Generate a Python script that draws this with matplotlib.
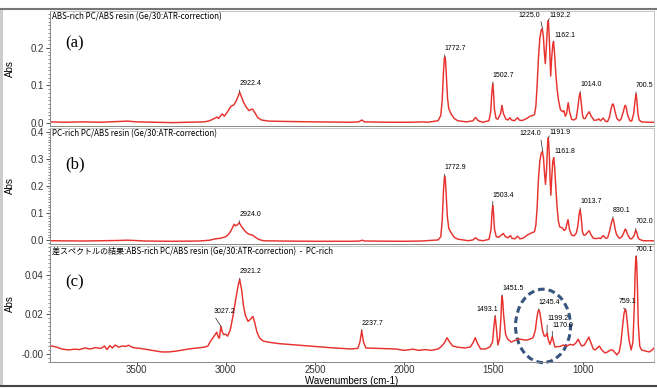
import matplotlib
matplotlib.use("Agg")
import matplotlib.pyplot as plt
from matplotlib.patches import Ellipse, Rectangle
from matplotlib.lines import Line2D
from matplotlib.ticker import AutoMinorLocator

# ---- spectrum (a): ABS-rich PC/ABS resin, (wavenumber, abs) ----
a_points = [(3985, 0.003), (3900, 0.002), (3800, 0.003), (3700, 0.002), (3600, 0.004), (3550, 0.005),
            (3500, 0.003), (3400, 0.002), (3300, 0.001), (3200, 0.002), (3120, 0.003), (3090, 0.006),
            (3060, 0.013), (3050, 0.016), (3040, 0.012), (3028, 0.020), (3020, 0.024), (3008, 0.018),
            (2990, 0.030), (2970, 0.045), (2955, 0.048), (2940, 0.060), (2930, 0.072), (2922, 0.082),
            (2912, 0.070), (2900, 0.055), (2885, 0.042), (2870, 0.033), (2855, 0.037), (2848, 0.036),
            (2835, 0.026), (2820, 0.014), (2800, 0.008), (2760, 0.005), (2650, 0.004), (2500, 0.003),
            (2300, 0.002), (2255, 0.003), (2238, 0.008), (2222, 0.003), (2100, 0.002), (1960, 0.002),
            (1900, 0.003), (1870, 0.002), (1810, 0.006), (1795, 0.020), (1787, 0.060), (1780, 0.135),
            (1775, 0.172), (1772, 0.176), (1768, 0.165), (1763, 0.120), (1757, 0.065), (1750, 0.038),
            (1738, 0.025), (1720, 0.012), (1700, 0.006), (1650, 0.003), (1615, 0.006), (1600, 0.015),
            (1585, 0.006), (1560, 0.002), (1525, 0.006), (1515, 0.030), (1509, 0.080), (1504, 0.104),
            (1500, 0.085), (1494, 0.035), (1485, 0.012), (1475, 0.010), (1460, 0.025), (1452, 0.047),
            (1444, 0.025), (1430, 0.010), (1418, 0.008), (1408, 0.014), (1398, 0.008), (1382, 0.006),
            (1365, 0.014), (1352, 0.007), (1335, 0.007), (1310, 0.013), (1295, 0.018), (1280, 0.020),
            (1270, 0.022), (1262, 0.045), (1255, 0.100), (1248, 0.170), (1240, 0.225), (1232, 0.248),
            (1226, 0.251), (1220, 0.230), (1214, 0.185), (1209, 0.158), (1203, 0.205), (1196, 0.265),
            (1192, 0.273), (1187, 0.230), (1182, 0.160), (1179, 0.125), (1174, 0.170), (1167, 0.210),
            (1163, 0.217), (1158, 0.190), (1150, 0.130), (1143, 0.090), (1135, 0.060), (1124, 0.035),
            (1112, 0.030), (1105, 0.033), (1097, 0.018), (1090, 0.025), (1081, 0.054), (1073, 0.030),
            (1062, 0.010), (1050, 0.008), (1036, 0.012), (1027, 0.040), (1019, 0.072), (1014, 0.079),
            (1009, 0.060), (1001, 0.022), (995, 0.012), (985, 0.012), (975, 0.022), (963, 0.030),
            (952, 0.018), (935, 0.007), (920, 0.008), (910, 0.011), (900, 0.006), (885, 0.013),
            (870, 0.004), (860, 0.004), (850, 0.015), (842, 0.035), (834, 0.049), (830, 0.051),
            (825, 0.045), (818, 0.030), (808, 0.012), (795, 0.006), (785, 0.010), (772, 0.030),
            (764, 0.045), (760, 0.047), (755, 0.040), (748, 0.022), (735, 0.006), (725, 0.005),
            (714, 0.025), (706, 0.060), (701, 0.077), (697, 0.065), (690, 0.025), (683, 0.008),
            (670, 0.003), (640, 0.002), (600, 0.002)]

# ---- spectrum (b): PC-rich PC/ABS resin ----
b_points = [(3985, -0.003), (3800, -0.004), (3600, -0.002), (3550, -0.001), (3450, -0.004), (3300, -0.005),
            (3150, -0.004), (3090, -0.001), (3060, 0.004), (3030, 0.006), (3000, 0.012), (2985, 0.020),
            (2970, 0.035), (2960, 0.048), (2953, 0.058), (2945, 0.052), (2935, 0.056), (2924, 0.063),
            (2912, 0.050), (2895, 0.035), (2880, 0.025), (2865, 0.020), (2850, 0.018), (2835, 0.010),
            (2815, 0.002), (2790, -0.003), (2700, -0.004), (2500, -0.005), (2300, -0.005), (2250, -0.004),
            (2235, -0.001), (2220, -0.004), (2000, -0.005), (1900, -0.004), (1880, -0.003), (1810, 0.000),
            (1795, 0.012), (1787, 0.070), (1780, 0.180), (1775, 0.228), (1773, 0.235), (1769, 0.220),
            (1764, 0.160), (1758, 0.085), (1750, 0.042), (1738, 0.028), (1720, 0.010), (1700, 0.003),
            (1640, -0.003), (1615, 0.000), (1600, 0.008), (1585, 0.000), (1560, -0.003), (1525, 0.002),
            (1513, 0.040), (1508, 0.100), (1504, 0.127), (1500, 0.105), (1494, 0.040), (1484, 0.012),
            (1470, 0.010), (1455, 0.018), (1445, 0.024), (1432, 0.012), (1418, 0.008), (1405, 0.016),
            (1395, 0.006), (1380, 0.004), (1365, 0.014), (1352, 0.004), (1335, 0.006), (1310, 0.018),
            (1290, 0.025), (1270, 0.030), (1262, 0.055), (1255, 0.120), (1248, 0.220), (1240, 0.290),
            (1232, 0.320), (1225, 0.327), (1219, 0.300), (1213, 0.240), (1208, 0.205), (1202, 0.260),
            (1196, 0.360), (1192, 0.377), (1187, 0.320), (1182, 0.220), (1178, 0.165), (1173, 0.230),
            (1167, 0.290), (1162, 0.303), (1157, 0.270), (1150, 0.190), (1143, 0.120), (1136, 0.070),
            (1128, 0.048), (1115, 0.045), (1103, 0.035), (1095, 0.040), (1082, 0.075), (1074, 0.040),
            (1062, 0.018), (1048, 0.015), (1036, 0.025), (1027, 0.050), (1019, 0.098), (1014, 0.111),
            (1009, 0.090), (1001, 0.030), (994, 0.018), (985, 0.018), (975, 0.026), (963, 0.034),
            (952, 0.018), (940, 0.006), (925, 0.005), (910, 0.007), (898, 0.005), (885, 0.016),
            (870, 0.006), (860, 0.008), (848, 0.035), (840, 0.060), (833, 0.075), (830, 0.078),
            (825, 0.068), (818, 0.040), (810, 0.020), (795, 0.006), (782, 0.010), (770, 0.025),
            (763, 0.038), (760, 0.040), (755, 0.034), (748, 0.020), (735, 0.005), (725, 0.004),
            (712, 0.015), (706, 0.028), (702, 0.035), (698, 0.030), (690, 0.010), (682, 0.002),
            (660, -0.003), (600, -0.003)]

# ---- spectrum (c): difference spectrum ----
c_points = [(3985, 0.0042), (3950, 0.0035), (3920, 0.0025), (3880, 0.0020), (3850, 0.0024), (3820, 0.0022),
            (3790, 0.0030), (3760, 0.0025), (3730, 0.0032), (3700, 0.0028), (3680, 0.0040), (3665, 0.0022),
            (3650, 0.0042), (3635, 0.0030), (3620, 0.0045), (3600, 0.0034), (3580, 0.0040), (3560, 0.0038),
            (3545, 0.0044), (3520, 0.0032), (3480, 0.0028), (3440, 0.0022), (3400, 0.0016), (3360, 0.0010),
            (3320, 0.0010), (3280, 0.0014), (3240, 0.0020), (3200, 0.0026), (3160, 0.0030), (3120, 0.0034),
            (3100, 0.0040), (3085, 0.0065), (3070, 0.0085), (3058, 0.0100), (3050, 0.0110), (3042, 0.0085),
            (3036, 0.0080), (3027, 0.0140), (3020, 0.0112), (3012, 0.0098), (3000, 0.0100), (2990, 0.0090),
            (2975, 0.0120), (2960, 0.0190), (2945, 0.0270), (2932, 0.0340), (2922, 0.0378), (2912, 0.0330),
            (2900, 0.0240), (2890, 0.0195), (2875, 0.0165), (2862, 0.0175), (2848, 0.0190), (2838, 0.0160),
            (2825, 0.0110), (2810, 0.0080), (2790, 0.0065), (2750, 0.0058), (2700, 0.0052), (2600, 0.0045),
            (2500, 0.0038), (2420, 0.0032), (2300, 0.0025), (2260, 0.0028), (2248, 0.0060), (2238, 0.0118),
            (2228, 0.0060), (2215, 0.0030), (2150, 0.0028), (2080, 0.0026), (2040, 0.0024), (2000, 0.0018),
            (1950, 0.0024), (1920, 0.0018), (1880, 0.0022), (1850, 0.0018), (1810, 0.0025), (1795, 0.0035),
            (1775, 0.0055), (1760, 0.0082), (1745, 0.0060), (1728, 0.0040), (1700, 0.0034), (1660, 0.0030),
            (1630, 0.0035), (1615, 0.0055), (1602, 0.0082), (1590, 0.0055), (1572, 0.0025), (1545, 0.0025),
            (1520, 0.0035), (1505, 0.0060), (1496, 0.0150), (1490, 0.0189), (1483, 0.0130), (1475, 0.0045),
            (1465, 0.0080), (1458, 0.0180), (1454, 0.0270), (1451, 0.0294), (1447, 0.0260), (1443, 0.0200),
            (1432, 0.0100), (1420, 0.0075), (1400, 0.0060), (1380, 0.0068), (1356, 0.0076), (1335, 0.0072),
            (1314, 0.0070), (1295, 0.0075), (1278, 0.0082), (1265, 0.0120), (1257, 0.0180), (1250, 0.0215),
            (1245, 0.0223), (1240, 0.0210), (1233, 0.0170), (1225, 0.0120), (1215, 0.0090), (1207, 0.0090),
            (1199, 0.0105), (1192, 0.0070), (1183, 0.0048), (1176, 0.0070), (1170, 0.0088), (1163, 0.0060),
            (1155, 0.0035), (1140, 0.0037), (1125, 0.0038), (1110, 0.0045), (1090, 0.0040), (1070, 0.0048),
            (1052, 0.0045), (1038, 0.0055), (1025, 0.0075), (1015, 0.0055), (1005, 0.0040), (990, 0.0045),
            (975, 0.0070), (965, 0.0085), (955, 0.0060), (940, 0.0025), (930, 0.0020), (918, 0.0030),
            (906, 0.0040), (893, 0.0020), (875, 0.0005), (860, 0.0010), (845, 0.0020), (832, 0.0020),
            (820, 0.0008), (808, -0.0005), (795, 0.0010), (785, 0.0060), (775, 0.0150), (768, 0.0205),
            (762, 0.0224), (760, 0.0226), (756, 0.0215), (750, 0.0160), (740, 0.0070), (728, 0.0020),
            (718, 0.0060), (710, 0.0250), (706, 0.0400), (703, 0.0470), (700, 0.0493), (697, 0.0460),
            (693, 0.0350), (688, 0.0150), (680, 0.0040), (670, 0.0020), (650, 0.0015), (626, 0.0010),
            (610, 0.0020), (600, 0.0030)]

a_wn, a_abs = zip(*a_points)
b_wn, b_abs = zip(*b_points)
c_wn, c_abs = zip(*c_points)

titles = ["ABS-rich PC/ABS resin (Ge/30:ATR-correction)",
          "PC-rich PC/ABS resin (Ge/30:ATR-correction)",
          "差スペクトルの結果:ABS-rich PC/ABS resin (Ge/30:ATR-correction)  -  PC-rich"]
panel_tags = ["(a)", "(b)", "(c)"]

# peak labels: (wavenumber, abs, text)
a_peaks = [(2922.4, 0.082, "2922.4"), (1772.7, 0.176, "1772.7"), (1502.7, 0.104, "1502.7"),
           (1225.0, 0.251, "1225.0"), (1192.2, 0.273, "1192.2"), (1162.1, 0.217, "1162.1"),
           (1014.0, 0.079, "1014.0"), (700.5, 0.077, "700.5")]
b_peaks = [(2924.0, 0.063, "2924.0"), (1772.9, 0.235, "1772.9"), (1503.4, 0.127, "1503.4"),
           (1224.0, 0.327, "1224.0"), (1191.9, 0.377, "1191.9"), (1161.8, 0.303, "1161.8"),
           (1013.7, 0.111, "1013.7"), (830.1, 0.078, "830.1"), (702.0, 0.035, "702.0")]
c_peaks = [(3027.2, 0.0140, "3027.2"), (2921.2, 0.0378, "2921.2"), (2237.7, 0.0118, "2237.7"),
           (1493.1, 0.0189, "1493.1"), (1451.5, 0.0294, "1451.5"), (1245.4, 0.0223, "1245.4"),
           (1199.2, 0.0105, "1199.2"), (1170.0, 0.0088, "1170.0"), (759.1, 0.0226, "759.1"),
           (700.1, 0.0493, "700.1")]

# label text offsets in pixels (dx, dy, ha) - styling only
a_offs = [(0, 5), (0, 5), (0, 5), (-2, 10, "right"), (1, 2), (1, 3), (0, 5), (0, 5)]
b_offs = [(0, 5), (0, 5), (0, 7), (-2, 14, "right"), (1, 2), (1, 3), (0, 5), (0, 5), (0, 5)]
c_offs = [(-7, 11), (0, 4), (0, 4), (3, 4, "right"), (0, 4), (0, 4), (0, 11), (0, 8), (-7, 4), (0, 4)]

red = "#e8322e"
fig = plt.figure(figsize=(6.57, 3.89), dpi=100)
left, width = 50 / 657, 604 / 657
boxes = [(1 - 126 / 389, 114.5 / 389), (1 - 244 / 389, 116 / 389), (1 - 362 / 389, 116 / 389)]
ylims = [(-0.008, 0.297), (-0.015, 0.413), (-0.0041, 0.0547)]
yticks = [[0.0, 0.1, 0.2], [0.0, 0.1, 0.2, 0.3, 0.4], [0.0, 0.02, 0.04]]
yticklabels = [["0.0", "0.1", "0.2"], ["0.0", "0.1", "0.2", "0.3", "0.4"], ["-0.00", "0.02", "0.04"]]
data = [(a_wn, a_abs, a_peaks, a_offs), (b_wn, b_abs, b_peaks, b_offs), (c_wn, c_abs, c_peaks, c_offs)]

axes = []
for i in range(3):
    ax = fig.add_axes([left, boxes[i][0], width, boxes[i][1]])
    wn, ab, peaks, offs = data[i]
    ax.plot(wn, ab, color=red, lw=1.05)
    ax.set_xlim(3985, 600)
    ax.set_ylim(*ylims[i])
    ax.set_yticks(yticks[i])
    ax.set_yticklabels(yticklabels[i], fontsize=7, family="Liberation Sans")
    ax.yaxis.set_minor_locator(AutoMinorLocator(10))
    ax.tick_params(axis="y", which="major", length=3, width=0.6, pad=1.5, colors="#333333")
    ax.tick_params(axis="y", which="minor", length=1.5, width=0.5, colors="#555555")
    ax.set_xticks([3500, 3000, 2500, 2000, 1500, 1000])
    if i < 2:
        ax.tick_params(axis="x", length=0, labelbottom=False)
    else:
        ax.set_xticklabels(["3500", "3000", "2500", "2000", "1500", "1000"], fontsize=7, family="Liberation Sans")
        ax.tick_params(axis="x", length=2, width=0.6, pad=0.5, colors="#333333")
        ax.set_xlabel("Wavenumbers (cm-1)", fontsize=7, family="Liberation Sans", labelpad=0.5)
    for s in ["top", "right"]:
        ax.spines[s].set_color("#bbbbbb")
        ax.spines[s].set_linewidth(0.6)
    for s in ["left", "bottom"]:
        ax.spines[s].set_color("#888888")
        ax.spines[s].set_linewidth(0.7)
    ax.set_ylabel("Abs", fontsize=7, family="Liberation Sans")
    ax.yaxis.set_label_coords(-0.058, 0.5)

    ax.annotate(titles[i], xy=(0, 1), xycoords="axes fraction", xytext=(2, -1), textcoords="offset pixels",
                ha="left", va="top", fontsize=5.8, family=["Noto Sans CJK JP", "DejaVu Sans"])
    ax.text(0.025, 0.72 if i == 0 else 0.69, panel_tags[i], transform=ax.transAxes, fontsize=12,
            family="Liberation Serif", va="center", ha="left")

    for (pw, pa, txt), off in zip(peaks, offs):
        ha = off[2] if len(off) > 2 else "left"
        ax.annotate(txt, xy=(pw, pa), xytext=(off[0], off[1]), textcoords="offset pixels",
                    ha=ha, va="bottom", fontsize=5, family="Liberation Sans",
                    arrowprops=dict(arrowstyle="-", lw=0.5, color="#222222", shrinkA=0, shrinkB=0,
                                    relpos=(0 if ha == "left" else 1, 0)))
    axes.append(ax)

# dashed ellipse around the 1245 / 1199 / 1170 group
axes[2].add_patch(Ellipse((1222, 0.0142), width=308, height=0.0372, fill=False, ls=(0, (2.2, 1.3)),
                          lw=2.2, color="#35557f", clip_on=False))

# screenshot frame
fig.add_artist(Line2D([0, 1], [1 - 8.5 / 389] * 2, color="#777777", lw=1.5))
fig.add_artist(Line2D([0, 1], [3 / 389] * 2, color="#444444", lw=1.5))
fig.add_artist(Rectangle((0, 3 / 389), 2.5 / 657, 1 - 11.5 / 389, color="#cccccc", lw=0))

plt.savefig("out.png", dpi=100)
